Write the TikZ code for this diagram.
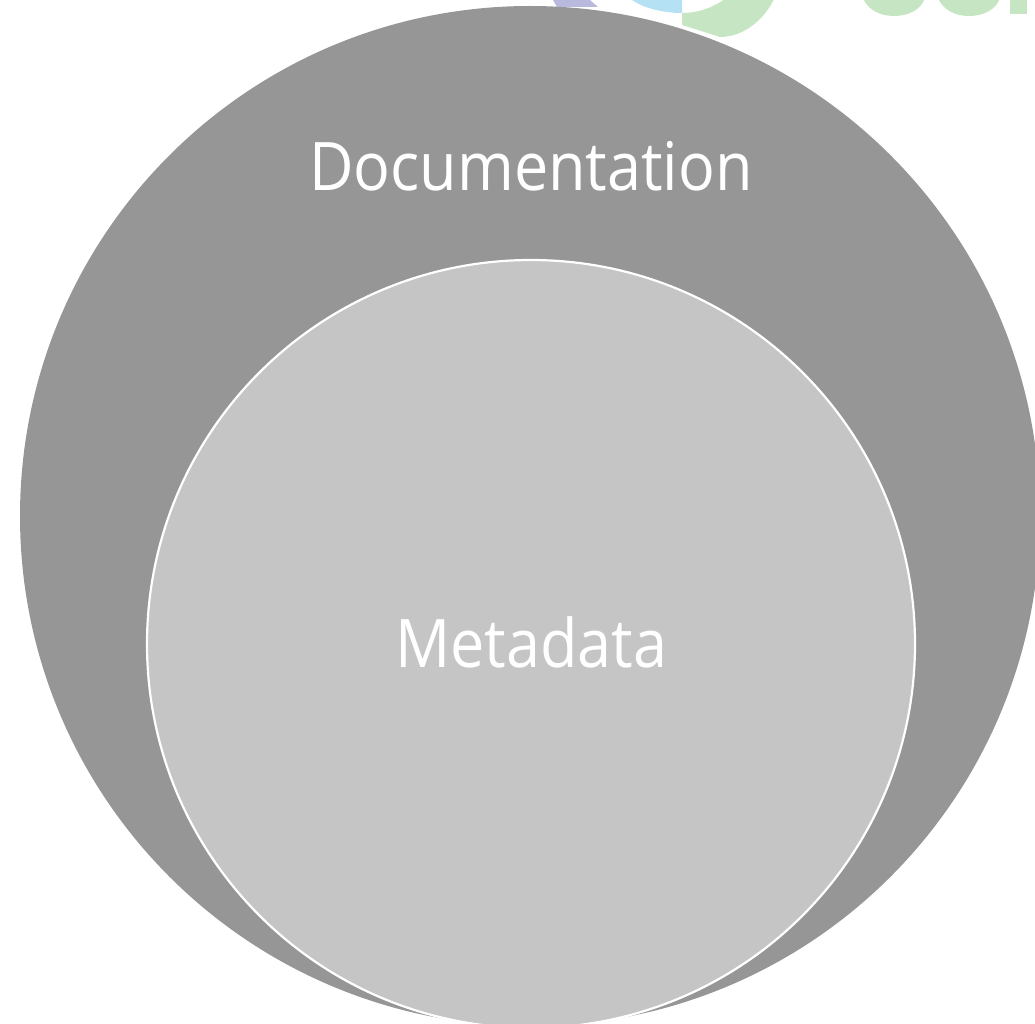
\documentclass[tikz,border=0pt]{standalone}
\usepackage{fontspec}
\setmainfont{DejaVu Sans}
\newfontfamily\labfont[FakeStretch=0.912]{Open Sans}
\tikzset{
  x=1pt,y=-1pt,
  outer/.style={circle,fill=outergray,minimum size=1020pt,inner sep=0pt},
  inner/.style={circle,fill=innergray,draw=white,line width=2.2pt,minimum size=768pt,inner sep=0pt},
  lab/.style={text=white,inner sep=0pt,anchor=base,font=\labfont\fontsize{67}{70}\selectfont}
}
\definecolor{outergray}{HTML}{969696}
\definecolor{innergray}{HTML}{C5C5C5}
\definecolor{logogreen}{HTML}{C6E5C3}
\definecolor{logoblue}{HTML}{B5E1F5}
\definecolor{logolav}{HTML}{B9B9DE}
\begin{document}
\begin{tikzpicture}
\useasboundingbox (0,0) rectangle (1035,1024);
\clip (0,0) rectangle (1035,1024);
\fill[logolav] (553,0) -- (557,7) -- (598,7) -- (590,0) -- cycle;
\fill[logoblue] (632,0) .. controls (645,9) and (665,13) .. (682,13) -- (682,0) -- cycle;
\fill[logogreen] (682,13) .. controls (698,13) and (712,8) .. (725,-1) -- (774,-1) .. controls (765,18) and (745,37) .. (720,37) -- (682,25) -- cycle;
\fill[logogreen] (863,-2) .. controls (868,10) and (880,16) .. (894,16) .. controls (908,16) and (921,10) .. (925,-2) -- cycle;
\fill[logogreen] (938,-2) .. controls (943,10) and (955,16) .. (969,16) .. controls (983,16) and (996,10) .. (1000,-2) -- cycle;
\fill[logogreen] (1010,-2) rectangle (1027,14.5);
\node[outer] (doc) at (530,516) {};
\node[inner] (meta) at (531,644) {};
\node[lab] (doclab) at (531,191) {Documentation};
\node[lab] (metalab) at (531,667) {Metadata};
\end{tikzpicture}
\end{document}
